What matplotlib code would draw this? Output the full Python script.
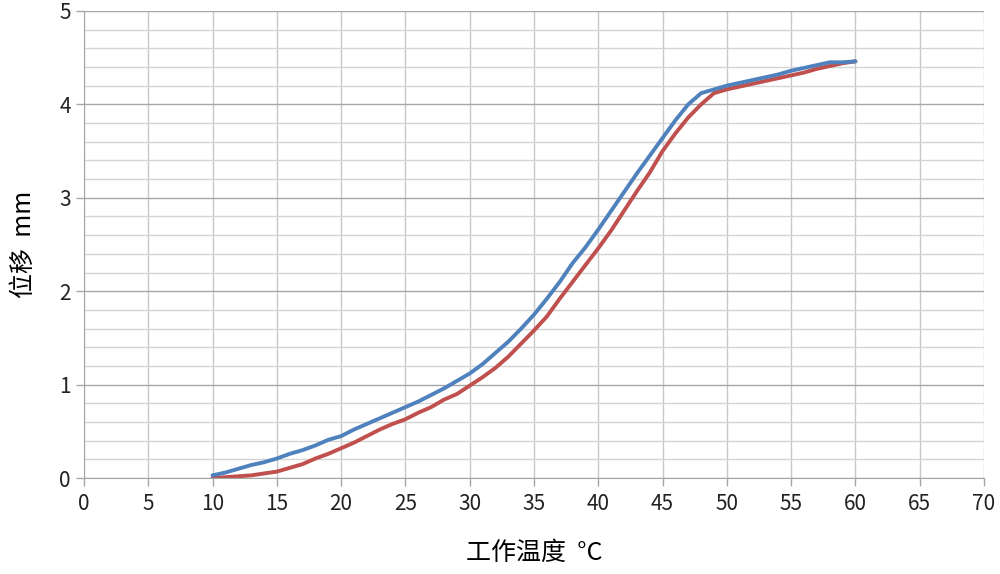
import numpy as np
import matplotlib.pyplot as plt
from matplotlib.ticker import MultipleLocator

plt.rcParams['font.family'] = ['Noto Sans CJK SC', 'DejaVu Sans']

temp = list(range(10, 61))
disp_blue = [0.03, 0.06, 0.10, 0.14, 0.17, 0.21, 0.26, 0.30, 0.35, 0.41,
             0.45, 0.52, 0.58, 0.64, 0.70, 0.76, 0.82, 0.89, 0.96, 1.04,
             1.12, 1.22, 1.34, 1.46, 1.60, 1.75, 1.92, 2.10, 2.30, 2.47,
             2.66, 2.86, 3.06, 3.26, 3.45, 3.64, 3.83, 4.00, 4.12, 4.16,
             4.20, 4.23, 4.26, 4.29, 4.32, 4.36, 4.39, 4.42, 4.45, 4.45,
             4.46]
disp_red = [0.00, 0.01, 0.02, 0.03, 0.05, 0.07, 0.11, 0.15, 0.21, 0.26,
            0.32, 0.38, 0.45, 0.52, 0.58, 0.63, 0.70, 0.76, 0.84, 0.90,
            0.99, 1.08, 1.18, 1.30, 1.44, 1.58, 1.73, 1.92, 2.10, 2.28,
            2.46, 2.65, 2.86, 3.07, 3.27, 3.50, 3.69, 3.86, 4.00, 4.12,
            4.16, 4.19, 4.22, 4.25, 4.28, 4.31, 4.34, 4.38, 4.41, 4.44,
            4.46]

fig = plt.figure(figsize=(10, 5.74), dpi=100)
ax = fig.add_axes([0.084, 0.167, 0.9, 0.814])

ax.plot(temp, disp_blue, color='#4F81BD', lw=2.8, solid_capstyle='round',
        solid_joinstyle='round', zorder=3)
ax.plot(temp, disp_red, color='#C0504D', lw=2.8, solid_capstyle='round',
        solid_joinstyle='round', zorder=2)

ax.set_xlim(0, 70)
ax.set_ylim(0, 5)
ax.xaxis.set_major_locator(MultipleLocator(5))
ax.yaxis.set_major_locator(MultipleLocator(1))
ax.yaxis.set_minor_locator(MultipleLocator(0.2))

ax.grid(True, axis='x', which='major', color='#C8C8C8', lw=1)
ax.grid(True, axis='y', which='major', color='#A6A6A6', lw=1)
ax.grid(True, axis='y', which='minor', color='#D4D4D4', lw=1)
ax.set_axisbelow(True)

for s in ['top', 'right']:
    ax.spines[s].set_visible(False)
ax.spines['left'].set_color('#A6A6A6')
ax.spines['bottom'].set_color('#A6A6A6')

ax.tick_params(axis='both', which='major', labelsize=15, color='#A6A6A6',
               length=6, width=1, labelcolor='#222222')
ax.tick_params(axis='y', which='minor', length=0)
ax.tick_params(axis='x', pad=5)

ax.set_xlabel('工作温度  °C', fontsize=18, labelpad=18)
ax.set_ylabel('位移  mm', fontsize=18, labelpad=16)

fig.savefig('out.png', dpi=100)
